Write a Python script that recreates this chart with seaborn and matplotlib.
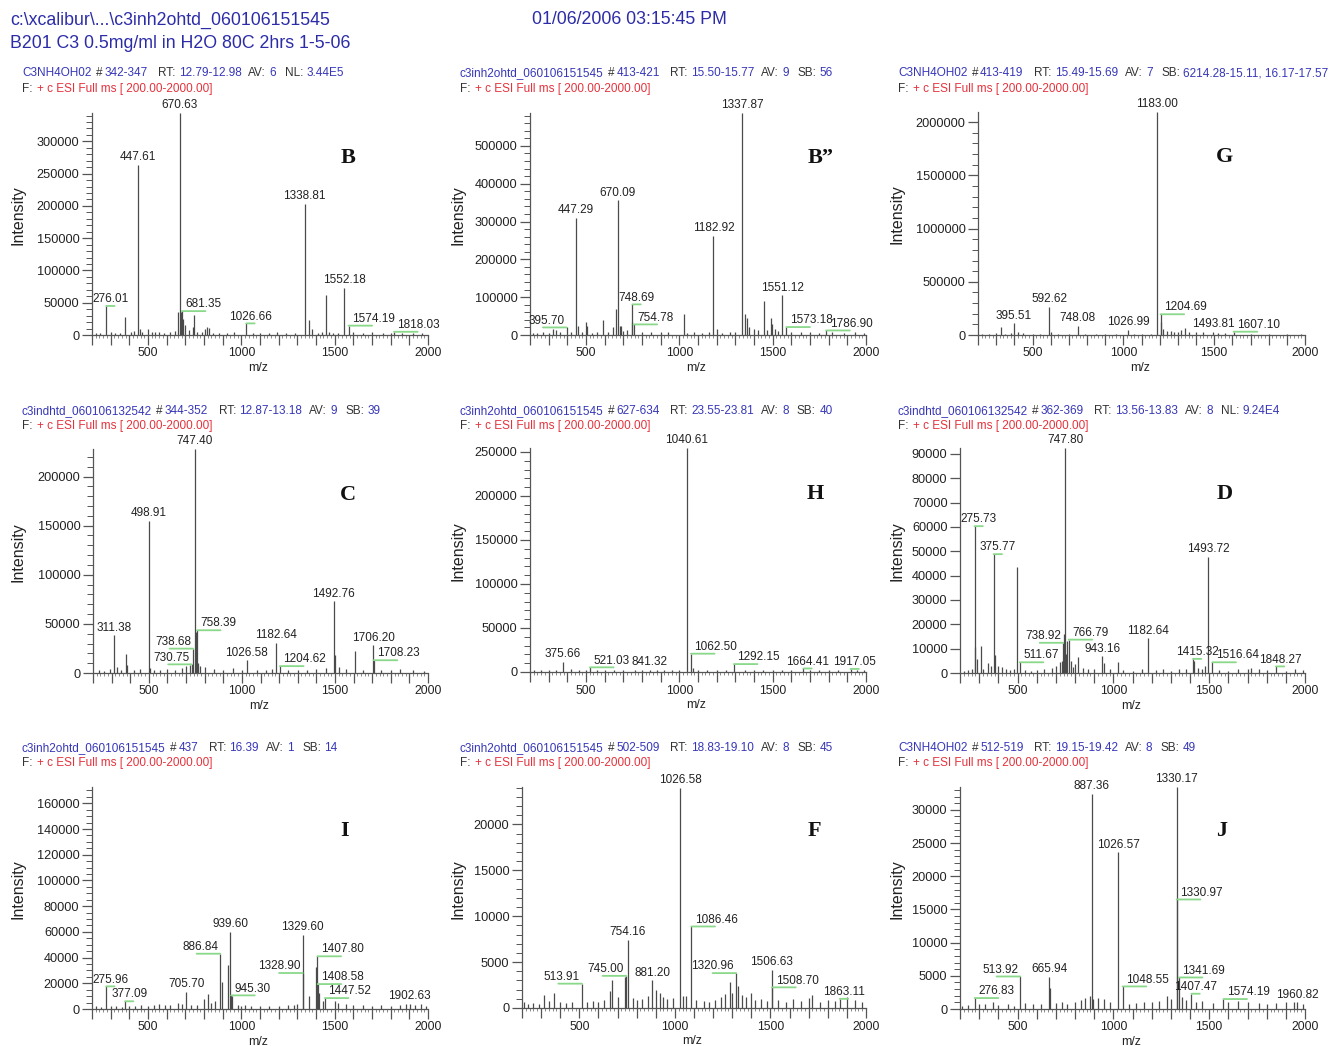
import numpy as np
import pandas as pd
import matplotlib
matplotlib.use("Agg")
import matplotlib.pyplot as plt
from matplotlib.ticker import MultipleLocator, FuncFormatter, NullLocator
import seaborn as sns

W, H = 1335, 1046

# ---------------- data ----------------
# panel B
b_mz = [276.01, 377, 447.61, 455, 498, 662, 670.63, 676, 681.35, 690, 698, 740, 746, 805, 815, 826,
        1026.66, 1338.81, 1365, 1378, 1452, 1552.18, 1574.19, 1818.03]
b_int = [45000, 28500, 264000, 10000, 10000, 35000, 344000, 35000, 37000, 25000, 15000, 12000, 31000,
         10000, 12000, 11000, 18000, 203000, 23000, 10000, 62000, 73500, 14500, 5000]
b_noise_mz = [220, 245, 300, 325, 350, 410, 425, 470, 520, 540, 560, 585, 620, 645, 720, 760, 790, 850,
              880, 925, 960, 1060, 1100, 1150, 1190, 1240, 1290, 1410, 1430, 1470, 1490, 1520, 1600,
              1650, 1700, 1760, 1800, 1860, 1920, 1970]
b_noise_int = [3000, 2500, 5000, 3500, 3000, 4500, 6500, 4000, 5000, 5000, 5000, 3000, 4000, 6000, 7000,
               5000, 4000, 3500, 3000, 3500, 4500, 3000, 2500, 3000, 4500, 3000, 2500, 3000, 4500, 5000,
               3500, 3000, 5000, 3000, 4000, 3000, 3500, 3000, 3500, 2500]
b_labels = ["276.01", "447.61", "670.63", "681.35", "1026.66", "1338.81", "1552.18", "1574.19", "1818.03"]
b_lead = {"276.01": "c", "681.35": "r", "1026.66": "c", "1574.19": "r", "1818.03": "r"}
b_ymax = 344000
b_hdr = ["C3NH4OH02", "342-347", "12.79-12.98", "6", "NL:", "3.44E5"]

# panel B''
bb_mz = [325, 340, 395.70, 447.29, 455, 500, 505, 593, 645, 660, 670.09, 680, 690, 745, 748.69, 754.78,
         1026, 1182.92, 1200, 1337.87, 1350, 1360, 1375, 1453, 1490, 1495, 1510, 1551.12, 1573.18, 1786.90]
bb_int = [15000, 12000, 20000, 309000, 25000, 35000, 25000, 40000, 20000, 70000, 356000, 25000, 25000,
          35000, 81000, 28000, 55000, 262000, 15000, 587000, 55000, 45000, 20000, 91000, 44000, 30000,
          15000, 105000, 21000, 12000]
bb_noise_mz = [215, 240, 270, 300, 360, 420, 480, 530, 560, 620, 700, 720, 800, 850, 900, 940, 1040,
               1080, 1120, 1160, 1230, 1270, 1300, 1400, 1420, 1470, 1530, 1600, 1650, 1700, 1750, 1820,
               1880, 1940, 1990]
bb_noise_int = [6000, 5000, 7000, 6000, 8000, 9000, 7000, 6000, 8000, 9000, 10000, 12000, 8000, 9000,
                7000, 8000, 6000, 7000, 6000, 9000, 6000, 8000, 7000, 16000, 12000, 14000, 10000, 9000,
                7000, 8000, 6000, 7000, 6000, 7000, 5000]
bb_labels = ["395.70", "447.29", "670.09", "748.69", "754.78", "1182.92", "1337.87", "1551.12",
             "1573.18", "1786.90"]
bb_lead = {"395.70": "l", "748.69": "c", "754.78": "r", "1573.18": "r", "1786.90": "r"}
bb_ymax = 587000
bb_hdr = ["c3inh2ohtd_060106151545", "413-421", "15.50-15.77", "9", "SB:", "56"]

# panel G
g_mz = [326, 395.51, 592.62, 600, 748.08, 1026.99, 1183.00, 1204.69, 1210, 1218, 1300, 1340, 1493.81, 1607.10]
g_int = [78000, 110000, 266000, 30000, 85000, 47000, 2096000, 195000, 120000, 60000, 30000, 70000, 30000, 31000]
g_noise_mz = [220, 260, 300, 350, 380, 420, 450, 500, 540, 640, 700, 790, 850, 900, 960, 1060, 1100,
              1150, 1240, 1260, 1280, 1320, 1360, 1400, 1440, 1520, 1560, 1700, 1800, 1900, 1980]
g_noise_int = [12000, 10000, 15000, 12000, 20000, 25000, 15000, 12000, 10000, 14000, 12000, 13000, 12000,
               10000, 12000, 11000, 10000, 12000, 35000, 40000, 30000, 45000, 25000, 30000, 25000, 20000,
               15000, 12000, 12000, 11000, 10000]
g_labels = ["395.51", "592.62", "748.08", "1026.99", "1183.00", "1204.69", "1493.81", "1607.10"]
g_lead = {"1204.69": "r", "1607.10": "r"}
g_ymax = 2096000
g_hdr = ["C3NH4OH02", "413-419", "15.49-15.69", "7", "SB:", "6214.28-15.11, 16.17-17.57"]

# panel C
c_mz = [311.38, 375, 380, 498.91, 505, 730.75, 738.68, 747.40, 752, 755, 758.39, 765, 775, 1026.58,
        1182.64, 1204.62, 1492.76, 1500, 1610, 1706.20, 1708.23]
c_int = [38400, 19000, 8000, 154800, 5000, 8800, 24800, 228000, 42000, 29000, 43500, 10000, 7000, 13000,
         31000, 7000, 73000, 18700, 22400, 28000, 13000]
c_noise_mz = [230, 260, 290, 330, 350, 420, 450, 530, 560, 600, 640, 680, 700, 720, 800, 850, 900, 950,
              1000, 1080, 1130, 1160, 1250, 1300, 1350, 1400, 1450, 1520, 1560, 1650, 1750, 1800, 1850,
              1920, 1980]
c_noise_int = [3000, 2500, 4000, 6000, 3000, 3000, 4000, 3000, 3500, 4000, 3500, 5000, 7000, 8000, 6000,
               4000, 3500, 5000, 3000, 3500, 3000, 4500, 3000, 3500, 3000, 4000, 5000, 6000, 4000, 3000,
               3500, 3000, 4000, 3000, 2500]
c_labels = ["311.38", "498.91", "730.75", "738.68", "747.40", "758.39", "1026.58", "1182.64", "1204.62",
            "1492.76", "1706.20", "1708.23"]
c_lead = {"730.75": "l", "738.68": "l", "758.39": "r", "1204.62": "r", "1708.23": "r"}
c_ymax = 228000
c_hdr = ["c3indhtd_060106132542", "344-352", "12.87-13.18", "9", "SB:", "39"]

# panel H
h_mz = [375.66, 521.03, 841.32, 1040.61, 1062.50, 1075, 1292.15, 1664.41, 1917.05]
h_int = [11300, 5300, 2500, 254500, 20800, 5000, 9000, 4000, 3500]
h_noise_mz = [220, 260, 300, 340, 420, 460, 500, 560, 600, 650, 700, 760, 800, 880, 920, 960, 1000,
              1100, 1150, 1200, 1250, 1350, 1400, 1450, 1500, 1550, 1600, 1700, 1750, 1800, 1850, 1950, 1990]
h_noise_int = [2000, 1800, 2500, 2000, 3000, 2000, 2500, 2000, 2200, 2000, 2500, 2000, 2300, 2000, 2200,
               2500, 2000, 2500, 2000, 2200, 2000, 2500, 2000, 2300, 2000, 2500, 2000, 2300, 2000, 2500,
               2000, 2200, 1800]
h_labels = ["375.66", "521.03", "841.32", "1040.61", "1062.50", "1292.15", "1664.41", "1917.05"]
h_lead = {"521.03": "r", "1062.50": "r", "1292.15": "r", "1664.41": "c", "1917.05": "c"}
h_ymax = 254500
h_hdr = ["c3inh2ohtd_060106151545", "627-634", "23.55-23.81", "8", "SB:", "40"]

# panel D
d_mz = [260, 275.73, 280, 291, 308, 345, 375.77, 380, 400, 497, 511.67, 700, 720, 730, 738.92, 745,
        747.80, 752, 760, 766.79, 780, 818, 943.16, 950, 1026, 1182.64, 1415.32, 1420, 1480, 1493.72,
        1516.64, 1848.27]
d_int = [1700, 60300, 10600, 5800, 11100, 4000, 48800, 7500, 3000, 43500, 4400, 3000, 4500, 5000, 12400,
         16000, 92400, 8000, 13300, 13700, 5000, 6500, 6900, 4000, 4400, 14300, 5800, 5000, 3000, 47700,
         4400, 2700]
d_noise_mz = [220, 240, 320, 360, 420, 440, 460, 480, 540, 570, 600, 640, 680, 790, 800, 840, 870, 900,
              980, 1050, 1100, 1150, 1220, 1260, 1300, 1340, 1380, 1440, 1460, 1550, 1600, 1650, 1700,
              1720, 1760, 1800, 1900, 1950, 1990]
d_noise_int = [800, 1200, 1500, 3000, 2500, 1500, 1200, 1500, 1200, 1000, 1300, 1500, 2000, 2500, 3500,
               2000, 1500, 1800, 1500, 1200, 1000, 1500, 1200, 1500, 1000, 1500, 1800, 2000, 1500, 1200,
               1000, 1500, 1800, 2200, 1500, 1200, 1000, 1500, 1200]
d_labels = ["275.73", "375.77", "511.67", "738.92", "747.80", "766.79", "943.16", "1182.64", "1415.32",
            "1493.72", "1516.64", "1848.27"]
d_lead = {"275.73": "c", "375.77": "c", "511.67": "r", "738.92": "l", "766.79": "r", "1415.32": "c",
          "1516.64": "r", "1848.27": "c"}
d_ymax = 92400
d_hdr = ["c3indhtd_060106132542", "362-369", "13.56-13.83", "8", "NL:", "9.24E4"]

# panel I
i_mz = [275.96, 377.09, 660, 705.70, 800, 822, 886.84, 895, 930, 939.60, 945.30, 950, 1328.90, 1329.60,
        1360, 1400, 1407.80, 1408.58, 1415, 1447.52, 1500, 1902.63]
i_int = [17600, 6000, 5000, 13200, 8000, 12000, 43000, 21000, 34000, 59800, 10600, 10000, 28000, 57700,
         9800, 32400, 41000, 19400, 12400, 8500, 6000, 4000]
i_noise_mz = [220, 250, 300, 330, 360, 400, 430, 460, 500, 530, 560, 590, 620, 680, 730, 760, 840, 860,
              980, 1000, 1020, 1050, 1100, 1150, 1200, 1250, 1280, 1300, 1440, 1520, 1560, 1600, 1650,
              1700, 1750, 1800, 1850, 1880, 1930, 1960, 1990]
i_noise_int = [2500, 1500, 2000, 2000, 1500, 2000, 2500, 3000, 2500, 3500, 4000, 3000, 3500, 4000, 3000,
               3500, 5000, 6000, 3500, 2500, 3000, 2500, 2000, 2500, 2000, 3000, 3500, 4000, 6000, 4500,
               4000, 3000, 3500, 2500, 3000, 2500, 3000, 4000, 3500, 4000, 2500]
i_labels = ["275.96", "377.09", "705.70", "886.84", "939.60", "945.30", "1328.90", "1329.60", "1407.80",
            "1408.58", "1447.52", "1902.63"]
i_lead = {"275.96": "c", "377.09": "c", "886.84": "l", "945.30": "r", "1328.90": "l", "1407.80": "r",
          "1408.58": "r", "1447.52": "r"}
i_ymax = 172700
i_hdr = ["c3inh2ohtd_060106151545", "437", "16.39", "1", "SB:", "14"]

# panel F
f_mz = [313, 370, 513.91, 660, 670, 739, 745.00, 754.16, 881.20, 900, 1026.58, 1040, 1086.46, 1290, 1300,
        1320.96, 1330, 1400, 1506.63, 1508.70, 1720, 1863.11]
f_int = [1450, 1630, 2650, 1800, 3080, 3370, 3500, 7430, 3000, 2000, 24000, 1270, 8880, 2800, 1600, 3800,
         2350, 1600, 4170, 2250, 1450, 1000]
f_noise_mz = [210, 230, 260, 290, 340, 400, 430, 460, 540, 570, 600, 630, 700, 780, 800, 830, 860, 920,
              940, 960, 990, 1060, 1110, 1150, 1180, 1210, 1240, 1260, 1350, 1370, 1420, 1450, 1480,
              1540, 1580, 1620, 1660, 1700, 1760, 1800, 1840, 1900, 1940, 1980]
f_noise_int = [600, 400, 500, 400, 800, 600, 500, 600, 700, 800, 600, 900, 1200, 1100, 900, 1000, 1300,
               1600, 1200, 1000, 1100, 1300, 900, 800, 700, 900, 1200, 1500, 1400, 1200, 900, 1000, 800,
               900, 700, 1000, 800, 1100, 700, 900, 800, 1200, 900, 700]
f_labels = ["513.91", "745.00", "754.16", "881.20", "1026.58", "1086.46", "1320.96", "1506.63", "1508.70",
            "1863.11"]
f_lead = {"513.91": "l", "745.00": "l", "1086.46": "r", "1320.96": "l", "1508.70": "r", "1863.11": "c"}
f_ymax = 24070
f_hdr = ["c3inh2ohtd_060106151545", "502-509", "18.83-19.10", "8", "SB:", "45"]

# panel J
j_mz = [276.83, 513.92, 665.94, 670, 880, 887.36, 895, 950, 1026.57, 1048.55, 1280, 1330.17, 1330.97,
        1341.69, 1407.47, 1574.19, 1960.82]
j_int = [1650, 4900, 4800, 3200, 2000, 32400, 1500, 1500, 23600, 3400, 1900, 33440, 16500, 4750, 2300,
         1500, 1000]
j_noise_mz = [210, 240, 300, 330, 370, 400, 450, 480, 540, 580, 620, 700, 730, 760, 800, 830, 850, 920,
              980, 1080, 1120, 1160, 1200, 1240, 1300, 1360, 1380, 1430, 1460, 1520, 1600, 1650, 1700,
              1760, 1800, 1850, 1900, 1940, 1990]
j_noise_int = [400, 600, 700, 800, 1000, 600, 700, 500, 900, 800, 700, 900, 1000, 700, 1100, 1300, 1600,
               1700, 1000, 800, 900, 1000, 1100, 1200, 1500, 1800, 1400, 1000, 1200, 900, 1100, 1200,
               1000, 900, 800, 900, 1000, 1100, 800]
j_labels = ["276.83", "513.92", "665.94", "887.36", "1026.57", "1048.55", "1330.17", "1330.97", "1341.69",
            "1407.47", "1574.19", "1960.82"]
j_lead = {"276.83": "r", "513.92": "l", "1048.55": "r", "1330.97": "r", "1341.69": "r", "1407.47": "c",
          "1574.19": "r"}
j_ymax = 33440
j_hdr = ["C3NH4OH02", "512-519", "19.15-19.42", "8", "SB:", "49"]

# ---------------- style ----------------
sns.set_theme(style="ticks")
plt.rcParams['font.family'] = ['Liberation Sans', 'DejaVu Sans']

TITLE_BLUE = "#2c2ca8"
BLUE = "#3636b8"
DARK = "#333333"
RED = "#e5323c"
GREEN = "#8ad88a"
STICK = "#4a4a4a"
AXC = "#555555"

fig = plt.figure(figsize=(W / 100, H / 100), dpi=100)
fig.patch.set_facecolor("white")

fig.text(10 / W, 1 - 20 / H, r"c:\xcalibur\...\c3inh2ohtd_060106151545", color=TITLE_BLUE,
         fontsize=12.8, va="center")
fig.text(10 / W, 1 - 43 / H, "B201 C3 0.5mg/ml in H2O 80C 2hrs 1-5-06", color=TITLE_BLUE,
         fontsize=12.8, va="center")
fig.text(532 / W, 1 - 20 / H, "01/06/2006 03:15:45 PM", color=TITLE_BLUE, fontsize=12.8, va="center")

panels = [
    dict(mz=b_mz, inten=b_int, nmz=b_noise_mz, nint=b_noise_int, labels=b_labels, lead=b_lead,
         ymax=b_ymax, ymaj=50000, ymin=10000, hdr=b_hdr, box=(92, 428, 113, 335), col=0, row=0,
         letter="B", lpos=(0.762, 0.797)),
    dict(mz=bb_mz, inten=bb_int, nmz=bb_noise_mz, nint=bb_noise_int, labels=bb_labels, lead=bb_lead,
         ymax=bb_ymax, ymaj=100000, ymin=20000, hdr=bb_hdr, box=(530, 866, 113, 335), col=1, row=0,
         letter="B\u201d", lpos=(0.866, 0.797)),
    dict(mz=g_mz, inten=g_int, nmz=g_noise_mz, nint=g_noise_int, labels=g_labels, lead=g_lead,
         ymax=g_ymax, ymaj=500000, ymin=100000, hdr=g_hdr, box=(978, 1305, 112, 335), col=2, row=0,
         letter="G", lpos=(0.755, 0.797)),
    dict(mz=c_mz, inten=c_int, nmz=c_noise_mz, nint=c_noise_int, labels=c_labels, lead=c_lead,
         ymax=c_ymax, ymaj=50000, ymin=10000, hdr=c_hdr, box=(93, 428, 449, 673), col=0, row=1,
         letter="C", lpos=(0.762, 0.796)),
    dict(mz=h_mz, inten=h_int, nmz=h_noise_mz, nint=h_noise_int, labels=h_labels, lead=h_lead,
         ymax=h_ymax, ymaj=50000, ymin=10000, hdr=h_hdr, box=(530, 866, 448, 672), col=1, row=1,
         letter="H", lpos=(0.848, 0.796)),
    dict(mz=d_mz, inten=d_int, nmz=d_noise_mz, nint=d_noise_int, labels=d_labels, lead=d_lead,
         ymax=d_ymax, ymaj=10000, ymin=None, hdr=d_hdr, box=(960, 1305, 448, 673), col=2, row=1,
         letter="D", lpos=(0.768, 0.796)),
    dict(mz=i_mz, inten=i_int, nmz=i_noise_mz, nint=i_noise_int, labels=i_labels, lead=i_lead,
         ymax=i_ymax, ymaj=20000, ymin=5000, hdr=i_hdr, box=(92, 428, 787, 1009), col=0, row=2,
         letter="I", lpos=(0.753, 0.80)),
    dict(mz=f_mz, inten=f_int, nmz=f_noise_mz, nint=f_noise_int, labels=f_labels, lead=f_lead,
         ymax=f_ymax, ymaj=5000, ymin=1000, hdr=f_hdr, box=(522, 866, 787, 1008), col=1, row=2,
         letter="F", lpos=(0.849, 0.80)),
    dict(mz=j_mz, inten=j_int, nmz=j_noise_mz, nint=j_noise_int, labels=j_labels, lead=j_lead,
         ymax=j_ymax, ymaj=5000, ymin=1000, hdr=j_hdr, box=(960, 1305, 787, 1009), col=2, row=2,
         letter="J", lpos=(0.759, 0.80)),
]

HDR_X = [22, 460, 898]
HDR_Y1 = [73, 411, 748]
HDR_Y2 = [89, 426, 763]
YLAB_X = [18, 458, 897]


def chain(ax, x, y, parts, size=8.5):
    prev = None
    for text, color, gap in parts:
        if prev is None:
            prev = ax.annotate(text, xy=(x, H - y), xycoords="figure pixels", color=color,
                               fontsize=size, ha="left", va="center", annotation_clip=False)
        else:
            prev = ax.annotate(text, xy=(1, 0.5), xycoords=prev, xytext=(gap, 0),
                               textcoords="offset points", color=color, fontsize=size,
                               ha="left", va="center", annotation_clip=False)


for p in panels:
    l, r, t, b = p["box"]
    ax = fig.add_axes([l / W, 1 - b / H, (r - l) / W, (b - t) / H])
    ax.set_facecolor("white")

    spec = pd.DataFrame({"mz": p["nmz"] + p["mz"], "intensity": p["nint"] + p["inten"]})
    ax.vlines(spec["mz"], 0, spec["intensity"], color=STICK, lw=0.9)

    ax.set_xlim(200, 2000)
    ax.set_ylim(0, p["ymax"])
    sns.despine(ax=ax)
    for s in ("left", "bottom"):
        ax.spines[s].set_color(AXC)
        ax.spines[s].set_linewidth(0.9)

    ax.xaxis.set_major_locator(MultipleLocator(100))
    ax.xaxis.set_minor_locator(MultipleLocator(20))
    ax.xaxis.set_major_formatter(FuncFormatter(
        lambda v, pos: f"{int(round(v))}" if int(round(v)) % 500 == 0 else ""))
    ax.yaxis.set_major_locator(MultipleLocator(p["ymaj"]))
    if p["ymin"]:
        ax.yaxis.set_minor_locator(MultipleLocator(p["ymin"]))
    else:
        ax.yaxis.set_minor_locator(NullLocator())
    ax.yaxis.set_major_formatter(FuncFormatter(lambda v, pos: f"{int(round(v))}"))

    ax.tick_params(axis="x", which="major", length=7, width=0.9, color=AXC, labelsize=8.8,
                   labelcolor="#222222", pad=2)
    ax.tick_params(axis="x", which="minor", length=2.5, width=0.6, color="#777777")
    ax.tick_params(axis="y", which="major", length=7, width=0.9, color=AXC, labelsize=9.2,
                   labelcolor="#222222", pad=2)
    ax.tick_params(axis="y", which="minor", length=4, width=0.7, color=AXC)

    ax.set_ylabel("Intensity", fontsize=11.5, color="#222222")
    ax.yaxis.label.set_va("center")
    ax.yaxis.set_label_coords((YLAB_X[p["col"]] - l) / (r - l), 0.54)
    ax.set_xlabel("m/z", fontsize=8.8, color="#222222")
    ax.xaxis.label.set_va("center")
    ax.xaxis.set_label_coords(0.495, -33 / (b - t))

    # peak labels
    heights = dict(zip(p["mz"], p["inten"]))
    for lab in p["labels"]:
        x = float(lab)
        h = heights[x]
        kind = p["lead"].get(lab)
        if kind is None:
            ax.annotate(lab, xy=(x, h), xytext=(0, 1.2), textcoords="offset points", ha="center",
                        va="bottom", fontsize=8.5, color="#222222", annotation_clip=False)
            continue
        if kind == "r":
            txt_off, ha, line_end = (2.5, 0.6), "left", (17, 0)
        elif kind == "l":
            txt_off, ha, line_end = (-1.5, 0.6), "right", (-17, 0)
        else:
            txt_off, ha, line_end = (3, 0.6), "center", (6, 0)
        ax.annotate("", xy=(x, h), xytext=line_end, textcoords="offset points",
                    arrowprops=dict(arrowstyle="-", color=GREEN, lw=1.3, shrinkA=0, shrinkB=0),
                    annotation_clip=False)
        ax.annotate(lab, xy=(x, h), xytext=txt_off, textcoords="offset points", ha=ha, va="bottom",
                    fontsize=8.5, color="#222222", annotation_clip=False)

    ax.text(p["lpos"][0], p["lpos"][1], p["letter"], transform=ax.transAxes, ha="center",
            va="center", fontsize=16, fontweight="bold", family="Liberation Serif", color="#111111")

    fname, scans, rt, av, key, val = p["hdr"]
    c, rw = p["col"], p["row"]
    chain(ax, HDR_X[c], HDR_Y1[rw], [(fname, BLUE, 0), ("#", DARK, 3), (scans, BLUE, 1.5),
                                      ("RT:", DARK, 7.5), (rt, BLUE, 2.5), ("AV:", DARK, 5),
                                      (av, BLUE, 2.5), (key, DARK, 6), (val, BLUE, 2.5)])
    chain(ax, HDR_X[c], HDR_Y2[rw], [("F:", DARK, 0), ("+ c ESI Full ms [ 200.00-2000.00]", RED, 3)])

fig.savefig("out.png", dpi=100, facecolor="white")
